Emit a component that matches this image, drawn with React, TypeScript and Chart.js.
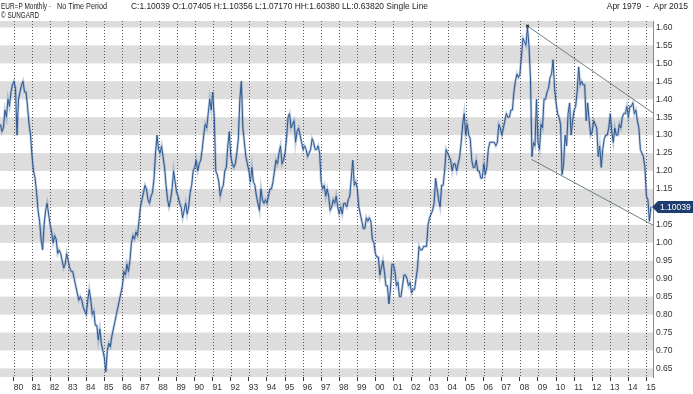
import React, { useEffect, useRef } from "react";
import { Chart, registerables } from "chart.js";

Chart.register(...registerables);

// Monthly closes, EUR=P (Apr 1979 – Apr 2015)
const m1979 = [1.33, 1.31, 1.32, 1.37, 1.35, 1.40, 1.38, 1.42, 1.44]; // Apr–Dec
const m1980 = [1.45, 1.43, 1.30, 1.40, 1.42, 1.44, 1.45, 1.42, 1.42, 1.38, 1.33, 1.30];
const m1981 = [1.24, 1.20, 1.18, 1.14, 1.09, 1.06, 1.01, 0.98, 1.05, 1.09, 1.11, 1.08];
const m1982 = [1.05, 1.03, 1.00, 1.02, 1.01, 0.97, 0.98, 0.97, 0.95, 0.93, 0.94, 0.97];
const m1983 = [0.95, 0.93, 0.92, 0.92, 0.90, 0.88, 0.86, 0.84, 0.85, 0.84, 0.82, 0.81];
const m1984 = [0.80, 0.84, 0.87, 0.84, 0.80, 0.81, 0.77, 0.77, 0.73, 0.76, 0.72, 0.70];
const m1985 = [0.68, 0.64, 0.70, 0.72, 0.71, 0.74, 0.76, 0.78, 0.80, 0.82, 0.84, 0.86];
const m1986 = [0.88, 0.92, 0.91, 0.94, 0.92, 0.95, 1.00, 1.02, 1.01, 1.03, 1.02, 1.06];
const m1987 = [1.10, 1.12, 1.14, 1.16, 1.15, 1.12, 1.11, 1.13, 1.14, 1.18, 1.25, 1.30];
const m1988 = [1.26, 1.25, 1.27, 1.24, 1.21, 1.16, 1.12, 1.10, 1.12, 1.15, 1.20, 1.17];
const m1989 = [1.14, 1.13, 1.11, 1.10, 1.07, 1.09, 1.11, 1.08, 1.10, 1.14, 1.16, 1.20];
const m1990 = [1.21, 1.23, 1.20, 1.22, 1.23, 1.26, 1.30, 1.33, 1.32, 1.36, 1.40, 1.37];
const m1991 = [1.42, 1.35, 1.20, 1.19, 1.17, 1.13, 1.15, 1.16, 1.20, 1.21, 1.27, 1.31];
const m1992 = [1.24, 1.22, 1.21, 1.22, 1.25, 1.29, 1.40, 1.45, 1.32, 1.28, 1.24, 1.22];
const m1993 = [1.20, 1.17, 1.21, 1.17, 1.16, 1.13, 1.11, 1.09, 1.15, 1.12, 1.11, 1.12];
const m1994 = [1.11, 1.13, 1.15, 1.15, 1.17, 1.20, 1.23, 1.22, 1.25, 1.27, 1.22, 1.23];
const m1995 = [1.25, 1.29, 1.35, 1.36, 1.32, 1.33, 1.34, 1.28, 1.31, 1.32, 1.30, 1.28];
const m1996 = [1.26, 1.27, 1.26, 1.24, 1.25, 1.26, 1.29, 1.28, 1.26, 1.26, 1.27, 1.25];
const m1997 = [1.17, 1.15, 1.16, 1.13, 1.15, 1.13, 1.09, 1.10, 1.12, 1.11, 1.13, 1.10];
const m1998 = [1.08, 1.10, 1.08, 1.11, 1.11, 1.10, 1.12, 1.13, 1.18, 1.23, 1.16, 1.17];
const m1999 = [1.15, 1.10, 1.08, 1.06, 1.04, 1.04, 1.07, 1.06, 1.07, 1.06, 1.01, 1.00];
const m2000 = [0.97, 0.96, 0.96, 0.91, 0.93, 0.95, 0.92, 0.88, 0.88, 0.83, 0.87, 0.94];
const m2001 = [0.94, 0.92, 0.88, 0.89, 0.85, 0.85, 0.88, 0.91, 0.91, 0.90, 0.88, 0.89];
const m2002 = [0.86, 0.87, 0.87, 0.90, 0.93, 0.99, 0.98, 0.98, 0.99, 0.99, 0.99, 1.05];
const m2003 = [1.07, 1.08, 1.09, 1.11, 1.18, 1.15, 1.12, 1.10, 1.16, 1.16, 1.20, 1.26];
const m2004 = [1.25, 1.24, 1.23, 1.20, 1.22, 1.22, 1.20, 1.22, 1.24, 1.28, 1.33, 1.36];
const m2005 = [1.30, 1.33, 1.30, 1.29, 1.23, 1.21, 1.21, 1.23, 1.20, 1.20, 1.18, 1.18];
const m2006 = [1.22, 1.19, 1.21, 1.26, 1.28, 1.28, 1.28, 1.28, 1.27, 1.28, 1.33, 1.32];
const m2007 = [1.30, 1.32, 1.34, 1.36, 1.35, 1.35, 1.37, 1.37, 1.42, 1.45, 1.47, 1.46];
const m2008 = [1.47, 1.52, 1.57, 1.56, 1.55, 1.60, 1.55, 1.46, 1.24, 1.28, 1.27, 1.40];
const m2009 = [1.28, 1.26, 1.33, 1.32, 1.40, 1.40, 1.42, 1.43, 1.46, 1.47, 1.51, 1.43];
const m2010 = [1.39, 1.36, 1.35, 1.33, 1.19, 1.22, 1.30, 1.27, 1.36, 1.39, 1.30, 1.34];
const m2011 = [1.37, 1.38, 1.42, 1.49, 1.44, 1.45, 1.44, 1.44, 1.34, 1.39, 1.34, 1.30];
const m2012 = [1.31, 1.34, 1.33, 1.32, 1.24, 1.27, 1.21, 1.26, 1.29, 1.30, 1.30, 1.32];
const m2013 = [1.36, 1.31, 1.28, 1.32, 1.30, 1.30, 1.33, 1.32, 1.35, 1.36, 1.36, 1.38];
const m2014 = [1.35, 1.38, 1.38, 1.39, 1.36, 1.37, 1.34, 1.32, 1.26, 1.25, 1.24, 1.21];
const m2015 = [1.13, 1.12, 1.06, 1.10039]; // Jan–Apr

const yearLabels = ["80", "81", "82", "83", "84", "85", "86", "87", "88", "89", "90", "91", "92", "93", "94", "95", "96", "97", "98", "99", "00", "01", "02", "03", "04", "05", "06", "07", "08", "09", "10", "11", "12", "13", "14", "15"];
const priceTicks = [0.65, 0.70, 0.75, 0.80, 0.85, 0.90, 0.95, 1.00, 1.05, 1.10, 1.15, 1.20, 1.25, 1.30, 1.35, 1.40, 1.45, 1.50, 1.55, 1.60];

// Channel trend lines: [year, value]
const upperTrend = [[2008.42, 1.6038], [2015.365, 1.362]];
const lowerTrend = [[2008.64, 1.2325], [2015.365, 1.049]];

const headerLeft = "EUR=P Monthly -";
const headerMid = "No Time Period";
const headerStats = "C:1.10039 O:1.07405 H:1.10356 L:1.07170 HH:1.60380 LL:0.63820 Single Line";
const headerCopy = "© SUNGARD";
const headerRange = "Apr 1979  -  Apr 2015";
const lastLabel = "1.10039";

const FONT = "'Liberation Sans', Arial, sans-serif";

export default function App() {
  const ref = useRef<HTMLCanvasElement | null>(null);

  useEffect(() => {
    const all = [
      ...m1979, ...m1980, ...m1981, ...m1982, ...m1983, ...m1984, ...m1985, ...m1986, ...m1987, ...m1988,
      ...m1989, ...m1990, ...m1991, ...m1992, ...m1993, ...m1994, ...m1995, ...m1996, ...m1997, ...m1998,
      ...m1999, ...m2000, ...m2001, ...m2002, ...m2003, ...m2004, ...m2005, ...m2006, ...m2007, ...m2008,
      ...m2009, ...m2010, ...m2011, ...m2012, ...m2013, ...m2014, ...m2015,
    ];
    const pts = all.map((v, i) => ({ x: 1979.25 + i / 12, y: v }));
    const years = yearLabels.map((_, i) => 1980 + i);

    const bg = {
      id: "bg",
      beforeDatasetsDraw(chart: any) {
        const { ctx, chartArea: a, scales } = chart;
        const ys = scales.y, xs = scales.x;
        ctx.save();
        ctx.beginPath();
        ctx.rect(a.left, a.top, a.right - a.left, a.bottom - a.top);
        ctx.clip();
        ctx.fillStyle = "#dddddd";
        for (let v = 0.6; v < 1.7; v += 0.1) {
          const y1 = ys.getPixelForValue(v + 0.05);
          const y2 = ys.getPixelForValue(v);
          ctx.fillRect(a.left, y1, a.right - a.left, y2 - y1);
        }
        ctx.strokeStyle = "#555";
        ctx.lineWidth = 1;
        ctx.setLineDash([1, 2]);
        years.forEach((yr) => {
          const x = Math.round(xs.getPixelForValue(yr)) + 0.5;
          ctx.beginPath();
          ctx.moveTo(x, a.top);
          ctx.lineTo(x, a.bottom);
          ctx.stroke();
        });
        ctx.restore();
      },
      afterDatasetsDraw(chart: any) {
        const { ctx, chartArea: a, scales } = chart;
        const ys = scales.y, xs = scales.x;
        ctx.save();
        ctx.beginPath();
        ctx.rect(a.left, a.top, a.right - a.left, a.bottom - a.top);
        ctx.clip();
        ctx.strokeStyle = "#6f8080";
        ctx.lineWidth = 1;
        [upperTrend, lowerTrend].forEach((ln) => {
          ctx.beginPath();
          ctx.moveTo(xs.getPixelForValue(ln[0][0]), ys.getPixelForValue(ln[0][1]));
          ctx.lineTo(xs.getPixelForValue(ln[1][0]), ys.getPixelForValue(ln[1][1]));
          ctx.stroke();
        });
        ctx.fillStyle = "#444";
        ctx.fillRect(xs.getPixelForValue(upperTrend[0][0]) - 1.5, ys.getPixelForValue(upperTrend[0][1]) - 1.5, 3, 3);
        ctx.restore();
      },
      afterDraw(chart: any) {
        const { ctx, scales, chartArea: a } = chart;
        ctx.save();
        ctx.fillStyle = "#222";
        ctx.font = `8.5px ${FONT}`;
        ctx.textBaseline = "middle";
        ctx.textAlign = "left";
        ctx.fillText(headerLeft, 1, 6.5, 50);
        ctx.fillText(headerMid, 57, 6.5, 50);
        ctx.fillText(headerStats, 131, 6.5, 297);
        ctx.fillText(headerCopy, 1, 16, 38);
        ctx.textAlign = "right";
        ctx.fillText(headerRange, 688, 6.5, 88);
        // last value tag
        const ly = Math.round(scales.y.getPixelForValue(all[all.length - 1]));
        const left = a.right;
        ctx.fillStyle = "#1d3e6e";
        ctx.beginPath();
        ctx.moveTo(left - 1, ly);
        ctx.lineTo(left + 5, ly - 6);
        ctx.lineTo(693, ly - 6);
        ctx.lineTo(693, ly + 6);
        ctx.lineTo(left + 5, ly + 6);
        ctx.closePath();
        ctx.fill();
        ctx.fillStyle = "#ffffff";
        ctx.textAlign = "left";
        ctx.fillText(lastLabel, left + 7, ly + 0.5);
        ctx.restore();
      },
    };

    const chart = new Chart(ref.current as HTMLCanvasElement, {
      type: "line",
      data: {
        datasets: [
          {
            data: pts,
            borderColor: "#2c5790",
            borderWidth: 1,
            pointRadius: 0,
            tension: 0,
            order: 1,
          },
          {
            data: pts,
            borderColor: "rgba(80,120,175,0.35)",
            borderWidth: 2.6,
            pointRadius: 0,
            tension: 0,
            order: 2,
          },
        ],
      },
      options: {
        responsive: false,
        animation: false,
        devicePixelRatio: 1,
        layout: { padding: { top: 21, left: 0, right: 0, bottom: 0 } },
        plugins: { legend: { display: false }, tooltip: { enabled: false }, title: { display: false } },
        scales: {
          x: {
            type: "linear",
            min: 1979.226,
            max: 2015.365,
            afterFit: (s: any) => { s.height = 17; },
            afterBuildTicks: (s: any) => { s.ticks = years.map((v) => ({ value: v })); },
            grid: { drawOnChartArea: false, drawTicks: true, tickLength: 4, color: "#333", lineWidth: 1 },
            border: { display: false },
            ticks: {
              autoSkip: false,
              maxRotation: 0,
              labelOffset: 4.5,
              padding: 2,
              color: "#333",
              font: { family: FONT, size: 8.5 },
              callback: (v: any) => yearLabels[Math.round(Number(v)) - 1980],
            },
          },
          y: {
            type: "linear",
            position: "right",
            min: 0.626,
            max: 1.618,
            afterFit: (s: any) => { s.width = 40; },
            afterBuildTicks: (s: any) => { s.ticks = priceTicks.map((v) => ({ value: v })); },
            grid: { drawOnChartArea: false, drawTicks: false },
            border: { display: true, color: "#888", width: 1 },
            ticks: {
              padding: 3,
              color: "#333",
              font: { family: FONT, size: 8.5 },
              callback: (v: any) => Number(v).toFixed(2),
            },
          },
        },
      },
      plugins: [bg],
    });
    return () => chart.destroy();
  }, []);

  return (
    <div style={{ position: "absolute", left: 0, top: 0, width: 693, height: 394, background: "#fff" }}>
      <canvas ref={ref} width={693} height={394} style={{ width: 693, height: 394, display: "block" }} />
    </div>
  );
}
